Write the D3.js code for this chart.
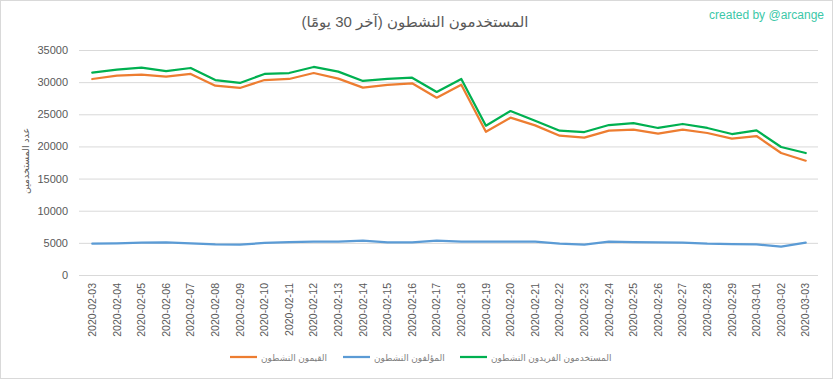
<!DOCTYPE html>
<html><head><meta charset="utf-8">
<script src="https://cdnjs.cloudflare.com/ajax/libs/d3/7.8.5/d3.min.js"></script>
<style>body{margin:0;background:#fff}svg{display:block}text{font-family:"Liberation Sans","DejaVu Sans",sans-serif;fill:#595959}</style>
</head><body><svg id="c" width="833" height="379"></svg>
<script>
const dates = ["2020-02-03","2020-02-04","2020-02-05","2020-02-06","2020-02-07","2020-02-08","2020-02-09","2020-02-10","2020-02-11","2020-02-12","2020-02-13","2020-02-14","2020-02-15","2020-02-16","2020-02-17","2020-02-18","2020-02-19","2020-02-20","2020-02-21","2020-02-22","2020-02-23","2020-02-24","2020-02-25","2020-02-26","2020-02-27","2020-02-28","2020-02-29","2020-03-01","2020-03-02","2020-03-03"];
const curators = [30490,31000,31160,30850,31270,29450,29090,30330,30490,31420,30540,29140,29560,29820,27580,29600,22290,24470,23280,21670,21360,22450,22600,21980,22600,22090,21200,21620,18980,17780];
const authors = [4870,4930,5030,5080,4930,4770,4720,4980,5130,5190,5190,5340,5080,5080,5340,5190,5190,5190,5190,4870,4720,5190,5130,5080,5030,4870,4820,4770,4410,5030];
const uniqueUsers = [31470,31940,32250,31730,32200,30330,29870,31270,31420,32360,31630,30180,30490,30690,28470,30490,23230,25510,24000,22450,22240,23330,23640,22870,23490,22870,21930,22500,19910,18980];
const yTicks = [0,5000,10000,15000,20000,25000,30000,35000];
const titleText = "المستخدمون النشطون (آخر 30 يومًا)";
const yTitle = "عدد المستخدمين";
const series = [
  {name:"القيمون النشطون", values:curators, color:"#ED7D31"},
  {name:"المؤلفون النشطون", values:authors, color:"#5B9BD5"},
  {name:"المستخدمون الفريدون النشطون", values:uniqueUsers, color:"#00B050"}
];

const svg = d3.select("#c");
svg.append("rect").attr("x",0.5).attr("y",0.5).attr("width",832).attr("height",378)
  .attr("fill","#fff").attr("stroke","#d9d9d9");

const pLeft=79, pRight=818, pTop=50, pBottom=275;
const x = d3.scaleBand().domain(dates).range([pLeft+1,pRight]);
const y = d3.scaleLinear().domain([0,35000]).range([pBottom,pTop]);

// gridlines + y labels
const ya = svg.append("g").attr("transform",`translate(${pLeft},0)`)
  .call(d3.axisLeft(y).tickValues(yTicks).tickSize(-(pRight-pLeft)).tickPadding(11).tickFormat(d3.format("d")));
ya.select(".domain").remove();
ya.selectAll(".tick line").attr("stroke","#d9d9d9").attr("stroke-width",1);
ya.selectAll(".tick text").style("font-size","11px").attr("fill","#595959");

// x labels
const xa = svg.append("g").attr("transform",`translate(0,${pBottom})`)
  .call(d3.axisBottom(x).tickSize(0));
xa.select(".domain").remove();
xa.selectAll(".tick text").style("font-size","10.5px").attr("fill","#595959")
  .attr("transform","rotate(-90)").attr("text-anchor","end").attr("dx","-8px").attr("dy","0.35em").attr("y",0).attr("x",0);

// lines
const line = d3.line().x((d,i)=>x(dates[i])+x.bandwidth()/2).y(d=>y(d));
series.forEach(s=>{
  svg.append("path").datum(s.values).attr("d",line).attr("fill","none")
    .attr("stroke",s.color).attr("stroke-width",2.25).attr("stroke-linejoin","round").attr("stroke-linecap","round");
});

// title
svg.append("text").attr("x",415).attr("y",27).attr("text-anchor","middle")
  .style("font-size","15px").attr("fill","#595959").text(titleText);
svg.append("text").attr("x",824).attr("y",19).attr("text-anchor","end")
  .style("font-size","12px").style("fill","#3cc8a8").text("created by @arcange");

// y title
svg.append("text").attr("transform","translate(29,161) rotate(-90)").attr("text-anchor","middle")
  .style("font-size","9.5px").text(yTitle);

// legend
const legendX = [230,343,460];
series.forEach((s,i)=>{
  const g = svg.append("g").attr("transform",`translate(${legendX[i]},357)`);
  g.append("line").attr("x1",0).attr("x2",27).attr("y1",0).attr("y2",0).attr("stroke",s.color).attr("stroke-width",2.25);
  g.append("text").attr("x",31).attr("y",3.5).attr("text-anchor","start").attr("direction","ltr")
    .style("font-size","9px").style("fill","#7f7f7f").text(s.name);
});
</script></body></html>
